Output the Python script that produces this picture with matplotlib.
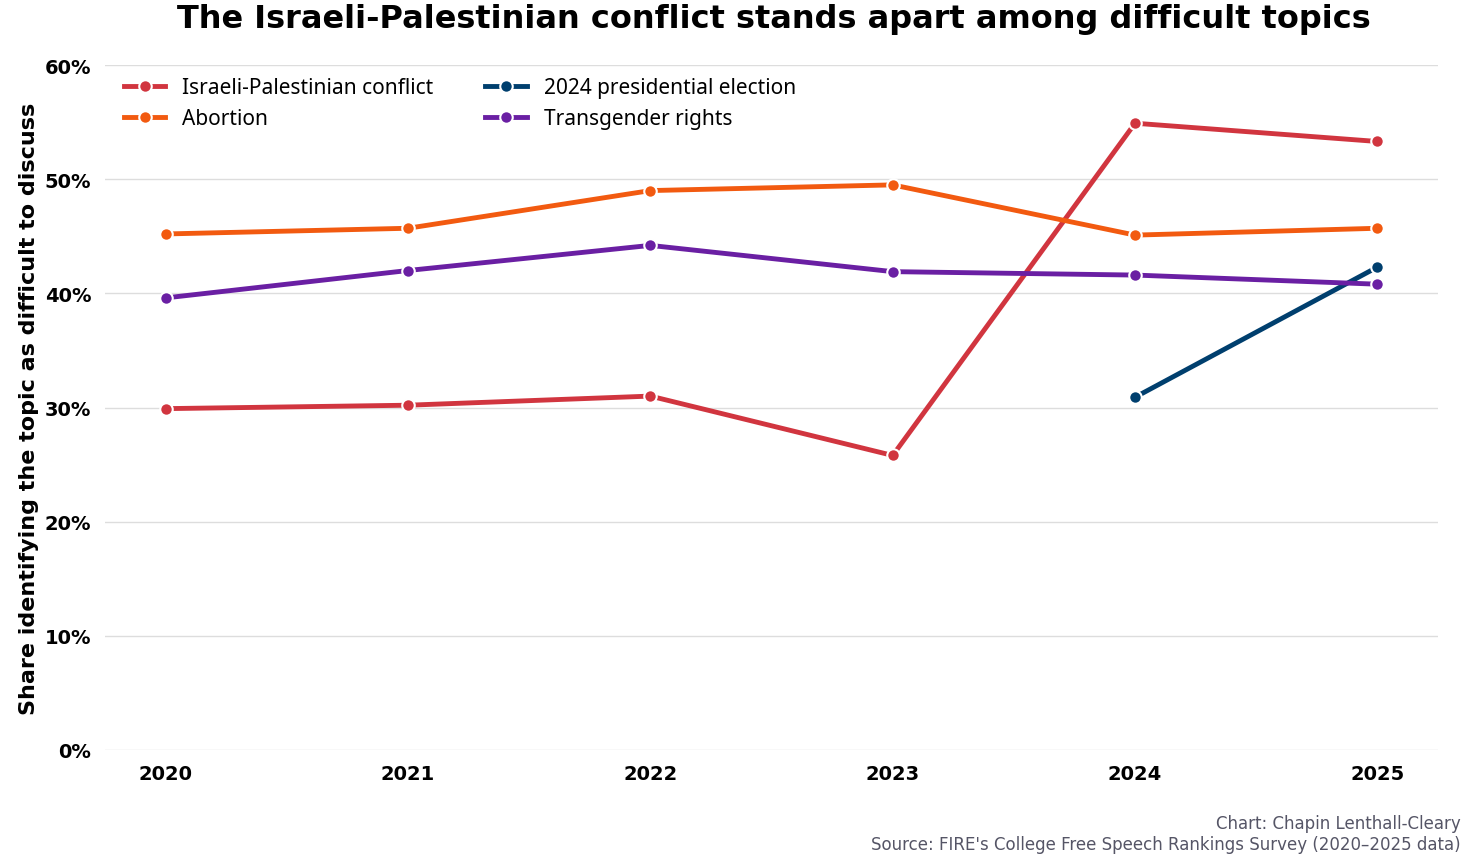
import matplotlib
matplotlib.use("Agg")
import matplotlib.pyplot as plt
from matplotlib.ticker import PercentFormatter

years = [2020, 2021, 2022, 2023, 2024, 2025]
israel = [29.9, 30.2, 31.0, 25.8, 54.9, 53.3]
abortion = [45.2, 45.7, 49.0, 49.5, 45.1, 45.7]
trans = [39.6, 42.0, 44.2, 41.9, 41.6, 40.8]
election_years = [2024, 2025]
election = [30.9, 42.3]

fig = plt.figure(figsize=(14.8, 8.62), dpi=100)
ax = fig.add_axes([105/1480, 1-751/862, (1438-105)/1480, (751-66)/862])

style = dict(lw=3.5, marker='o', markersize=9, markeredgecolor='white', markeredgewidth=1.5)
ax.plot(years, israel, color='#d1353f', label='Israeli-Palestinian conflict', **style)
ax.plot(years, abortion, color='#f25a10', label='Abortion', **style)
ax.plot(election_years, election, color='#003f6e', label='2024 presidential election', **style)
ax.plot(years, trans, color='#6a1fa3', label='Transgender rights', **style)

ax.set_xlim(2019.75, 2025.25)
ax.set_ylim(0, 60)
ax.set_xticks(years)
ax.yaxis.set_major_formatter(PercentFormatter(decimals=0))
ax.grid(axis='y', color='#dddddd', lw=1)
ax.set_axisbelow(True)
for s in ax.spines.values():
    s.set_visible(False)
ax.tick_params(length=0, labelsize=14, pad=10)
for lab in ax.get_xticklabels() + ax.get_yticklabels():
    lab.set_fontweight('bold')
ax.set_ylabel('Share identifying the topic as difficult to discuss', fontsize=16, fontweight='bold')

handles, labels = ax.get_legend_handles_labels()
order = [0, 1, 2, 3]
leg = ax.legend(handles, labels, loc='upper left', ncol=2, frameon=False,
                prop={'family': 'Noto Sans', 'size': 15}, handlelength=2,
                columnspacing=2.5, bbox_to_anchor=(0.0, 1.01))

fig.suptitle('The Israeli-Palestinian conflict stands apart among difficult topics',
             fontsize=23, fontweight='bold', x=0.523, y=0.995)
fig.text(0.987, 0.038, 'Chart: Chapin Lenthall-Cleary', ha='right', fontsize=12, color='#555566')
fig.text(0.987, 0.014, "Source: FIRE's College Free Speech Rankings Survey (2020\u20132025 data)",
         ha='right', fontsize=12, color='#555566')

fig.savefig('out.png', dpi=100)
